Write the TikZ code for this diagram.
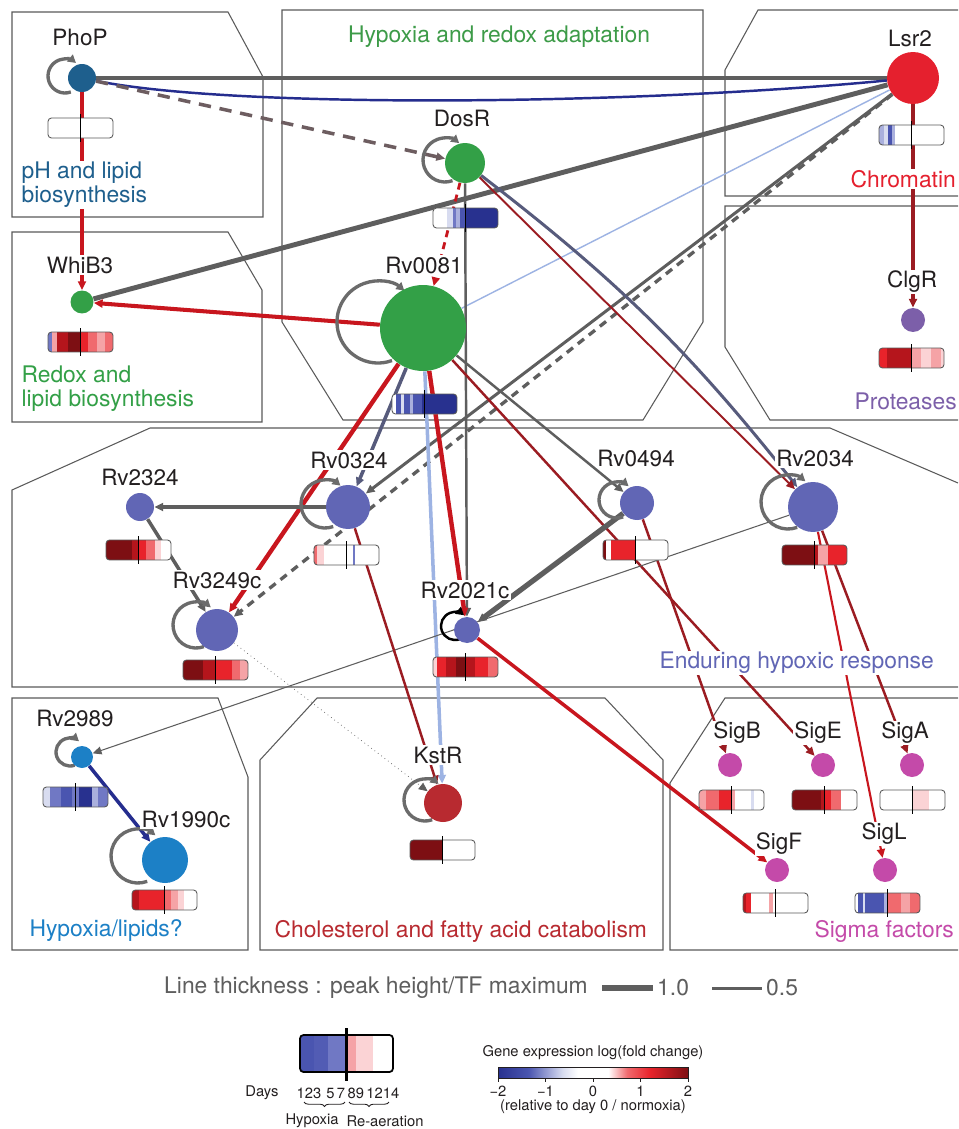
\documentclass[tikz,border=0pt]{standalone}
\usepackage{fontspec}
\setmainfont{TeX Gyre Heros}
\usetikzlibrary{arrows.meta,calc,backgrounds,decorations.pathreplacing}

% node and text colours
\definecolor{ink}{HTML}{231F20}
\definecolor{framegray}{HTML}{5A5A5A}
\definecolor{loopgray}{HTML}{6B6B6B}
\definecolor{edgegray}{HTML}{5E5E5E}
\definecolor{edgered}{HTML}{C8161E}
\definecolor{edgedark}{HTML}{9B1C22}
\definecolor{edgenavy}{HTML}{252D8E}
\definecolor{edgeslate}{HTML}{575B7C}
\definecolor{edgelight}{HTML}{9DB3E3}
\definecolor{edgebrown}{HTML}{6D5D60}
\definecolor{phcol}{HTML}{1E5F8D}
\definecolor{greencol}{HTML}{33A047}
\definecolor{hypcol}{HTML}{3D9B48}
\definecolor{chromcol}{HTML}{E5202E}
\definecolor{protcol}{HTML}{7C5FA9}
\definecolor{endcol}{HTML}{6166B5}
\definecolor{lipcol}{HTML}{1C80C6}
\definecolor{cholcol}{HTML}{B82A30}
\definecolor{sigcol}{HTML}{C44AA9}
% heat map colours
\definecolor{bA}{HTML}{D8DCF0}
\definecolor{bB}{HTML}{AAB0DD}
\definecolor{bC}{HTML}{7078C4}
\definecolor{bD}{HTML}{4A55B0}
\definecolor{bE}{HTML}{28318F}
\definecolor{rA}{HTML}{FBD3D5}
\definecolor{rB}{HTML}{F5A3A6}
\definecolor{rC}{HTML}{F06A6E}
\definecolor{rD}{HTML}{E8232B}
\definecolor{rE}{HTML}{B5151C}
\definecolor{rF}{HTML}{7D0F13}

\pgfdeclarehorizontalshading{foldbar}{100bp}{color(0bp)=(bE); color(25bp)=(bE);
  color(33bp)=(bD); color(42bp)=(bA); color(46bp)=(white); color(54bp)=(white);
  color(59bp)=(rC); color(65bp)=(rD); color(75bp)=(rF); color(100bp)=(rF)}

\tikzset{
  tf/.style={circle, inner sep=0pt, minimum size=#1*0.04cm},
  gene/.style={fill=white, inner sep=0.7pt, text=ink, font=\fontsize{12.8}{14}\selectfont},
  module/.style={anchor=west, align=left, fill=white, inner sep=0.7pt, font=\fontsize{13}{13.6}\selectfont},
  frame/.style={draw=framegray, line width=0.6pt},
  reg/.style={-{Triangle[length=5pt,width=4.5pt]}},
  selfreg/.style={draw=loopgray, line width=1.9pt, -{Triangle[length=4.5pt,width=5pt]}},
  barframe/.style={draw=framegray, line width=0.5pt},
  daymark/.style={draw=black, line width=0.6pt},
  keytxt/.style={anchor=west, inner sep=0.5pt, text=edgegray, font=\fontsize{13}{14}\selectfont},
  legtxt/.style={inner sep=0.5pt, text=ink, font=\fontsize{8.4}{9.5}\selectfont},
}

% expression bar: left x, top y, segments start/end/colour
\newcommand{\heatbar}[3]{%
  \fill[white, rounded corners=2pt] (#1,#2) rectangle ++(65,20);
  \begin{scope}
    \clip[rounded corners=2pt] (#1,#2) rectangle ++(65,20);
    \foreach \s/\e/\c in {#3} \fill[\c] (#1+\s*65,#2) rectangle (#1+\e*65,#2+20);
  \end{scope}
  \draw[barframe, rounded corners=2pt] (#1,#2) rectangle ++(65,20);
  \draw[daymark] (#1+32.5,#2-4) -- (#1+32.5,#2+24);
}

\begin{document}
\begin{tikzpicture}[x=0.02cm, y=-0.02cm]
    \useasboundingbox (0,0) rectangle (958,1129);
    \clip (0,0) rectangle (958,1129);

    % regulators and targets
    \node[tf=14, fill=phcol] (PhoP) at (82,78) {};
    \node[tf=11.5, fill=greencol] (WhiB3) at (82,302) {};
    \node[tf=20, fill=greencol] (DosR) at (465,163) {};
    \node[tf=43, fill=greencol] (Rv0081) at (423,328) {};
    \node[tf=26, fill=chromcol] (Lsr2) at (913,78) {};
    \node[tf=12, fill=protcol] (ClgR) at (913,320) {};
    \node[tf=14, fill=endcol] (Rv2324) at (140,507) {};
    \node[tf=22, fill=endcol] (Rv0324) at (348,507) {};
    \node[tf=21, fill=endcol] (Rv3249c) at (217,630) {};
    \node[tf=13, fill=endcol] (Rv2021c) at (467,630) {};
    \node[tf=17, fill=endcol] (Rv0494) at (637,503) {};
    \node[tf=25, fill=endcol] (Rv2034) at (813,507) {};
    \node[tf=11, fill=lipcol] (Rv2989) at (82,757) {};
    \node[tf=23, fill=lipcol] (Rv1990c) at (165,860) {};
    \node[tf=19, fill=cholcol] (KstR) at (443,803) {};
    \node[tf=12, fill=sigcol] (SigB) at (730,765) {};
    \node[tf=12, fill=sigcol] (SigE) at (823,765) {};
    \node[tf=12, fill=sigcol] (SigA) at (912,765) {};
    \node[tf=12, fill=sigcol] (SigF) at (777,870) {};
    \node[tf=12, fill=sigcol] (SigL) at (885,870) {};

    \begin{pgfonlayer}{background}
    \fill[white] (0,0) rectangle (958,1129);
    % module frames
    \draw[frame] (12,12) -- (228,12) -- (263,77) -- (263,217) -- (12,217) -- cycle;
    \draw[frame] (12,232) -- (228,232) -- (262,290) -- (262,422) -- (12,422) -- cycle;
    \draw[frame] (282,10) -- (703,10) -- (703,322) -- (643,420) -- (343,420) -- (282,322) -- cycle;
    \draw[frame] (958,10) -- (758,10) -- (725,70) -- (725,196) -- (958,196);
    \draw[frame] (958,206) -- (725,206) -- (725,347) -- (770,420) -- (958,420);
    \draw[frame] (958,687) -- (12,687) -- (12,490) -- (150,428) -- (830,428) -- (958,483);
    \draw[frame] (12,698) -- (218,698) -- (248,777) -- (248,950) -- (12,950) -- cycle;
    \draw[frame] (317,698) -- (605,698) -- (663,760) -- (663,950) -- (260,950) -- (260,760) -- cycle;
    \draw[frame] (958,698) -- (725,698) -- (670,783) -- (670,950) -- (958,950);

    % interactions
    \draw[edgegray, line width=2.3pt] (PhoP) -- (Lsr2);
    \draw[edgenavy, line width=1.4pt] (Lsr2) .. controls (620,106) and (230,108) .. (PhoP);
    \draw[edgebrown, line width=2pt, dash pattern=on 7pt off 5pt, reg] (PhoP) -- (DosR);
    \draw[edgered, line width=2.8pt, reg] (PhoP) -- (WhiB3);
    \draw[edgegray, line width=2.8pt] (Lsr2) -- (WhiB3);
    \draw[edgelight, line width=0.8pt] (Lsr2) -- (Rv0081);
    \draw[edgegray, line width=1.7pt, reg] (Lsr2) -- (Rv0324);
    \draw[edgegray, line width=1.9pt, dash pattern=on 4.5pt off 3.5pt, reg] (Lsr2) -- (Rv3249c);
    \draw[edgedark, line width=2.3pt, reg] (Lsr2) -- (ClgR);
    \draw[edgered, line width=2.3pt, reg] (Rv0081) -- (WhiB3);
    \draw[edgered, line width=1.6pt, dash pattern=on 4pt off 3pt, reg] (DosR) -- (Rv0081);
    \draw[edgegray, line width=1.4pt, reg] (DosR) -- (Rv2021c);
    \draw[edgeslate, line width=1.7pt, reg] (DosR) to[bend left=7] (Rv2034);
    \draw[edgedark, line width=1.1pt, reg] (DosR) -- (Rv2034);
    \draw[edgered, line width=2.5pt, reg] (Rv0081) -- (Rv3249c);
    \draw[edgeslate, line width=2pt, reg] (Rv0081) -- (Rv0324);
    \draw[edgelight, line width=2pt, reg] (Rv0081) -- (KstR);
    \draw[edgered, line width=2.5pt, reg] (Rv0081) -- (Rv2021c);
    \draw[edgegray, line width=1.4pt, reg] (Rv0081) -- (Rv0494);
    \draw[edgedark, line width=1.4pt, reg] (Rv0081) -- (SigE);
    \draw[edgedark, line width=1.4pt, reg] (Rv0494) -- (SigB);
    \draw[edgegray, line width=3pt, reg] (Rv0494) -- (Rv2021c);
    \draw[edgegray, line width=0.6pt, reg] (Rv2034) -- (Rv2989);
    \draw[edgegray, line width=0.4pt, dotted, reg] (Rv3249c) -- (KstR);
    \draw[edgedark, line width=1.4pt, reg] (Rv0324) -- (KstR);
    \draw[edgegray, line width=2.8pt, reg] (Rv0324) -- (Rv2324);
    \draw[edgegray, line width=2pt, reg] (Rv2324) -- (Rv3249c);
    \draw[edgered, line width=2pt, reg] (Rv2021c) -- (SigF);
    \draw[edgered, line width=1.2pt, reg] (Rv2034) -- (SigL);
    \draw[edgedark, line width=1.4pt, reg] (Rv2034) -- (SigA);
    \draw[edgenavy, line width=2pt, reg] (Rv2989) -- (Rv1990c);

    % self-regulation
    \foreach \n/\dx/\dy/\R in {PhoP/-17/-2/17, DosR/-20/-3/22, Rv0081/-45/-6/41,
        Rv0324/-23/-3/24, Rv3249c/-21/-5/23, Rv0494/-20/-3/18, Rv2034/-25/-5/27,
        Rv2989/-12/-5/14, Rv1990c/-27/-4/27, KstR/-18/-3/21}
      \draw[selfreg] (\n) ++(\dx,\dy) ++(70:\R) arc[start angle=70, end angle=310, radius=\R];
    \draw[selfreg, draw=black, line width=1.4pt] (Rv2021c) ++(-12,-4) ++(70:14) arc[start angle=70, end angle=310, radius=14];
    \end{pgfonlayer}

    % expression profiles
    \heatbar{48}{118}{0/1/white}
    \heatbar{48}{332}{0/0.06/bC, 0.06/0.14/rB, 0.14/0.3/rE, 0.3/0.5/rF, 0.5/0.62/rD, 0.62/0.75/rC, 0.75/0.88/rB, 0.88/1/rC}
    \heatbar{433}{208}{0/0.22/white, 0.22/0.3/bA, 0.3/0.36/bC, 0.36/0.42/bB, 0.42/0.5/bD, 0.5/1/bE}
    \heatbar{392}{394}{0/0.06/white, 0.06/0.14/bD, 0.14/0.18/bA, 0.18/0.27/bD, 0.27/0.33/bB, 0.33/0.46/bD, 0.46/1/bE}
    \heatbar{879}{125}{0/0.08/bB, 0.08/0.14/bA, 0.14/0.2/bD, 0.2/0.25/bB, 0.25/1/white}
    \heatbar{879}{348}{0/0.12/rD, 0.12/0.3/rE, 0.3/0.5/rE, 0.5/0.65/rB, 0.65/0.8/rA, 0.8/0.95/rB, 0.95/1/rA}
    \heatbar{106}{540}{0/0.4/rF, 0.4/0.5/rE, 0.5/0.62/rD, 0.62/0.75/rC, 0.75/0.85/rA, 0.85/1/white}
    \heatbar{314}{545}{0/0.05/rC, 0.05/0.15/rA, 0.15/0.6/white, 0.6/0.63/bC, 0.63/1/white}
    \heatbar{183}{660}{0/0.3/rF, 0.3/0.5/rE, 0.5/0.75/rD, 0.75/0.88/rC, 0.88/1/rB}
    \heatbar{433}{657}{0/0.06/rA, 0.06/0.2/rD, 0.2/0.35/rE, 0.35/0.5/rF, 0.5/0.65/rE, 0.65/0.85/rD, 0.85/1/rC}
    \heatbar{603}{540}{0/0.05/rF, 0.05/0.12/white, 0.12/0.5/rD, 0.5/1/white}
    \heatbar{782}{545}{0/0.5/rF, 0.5/0.56/rE, 0.56/0.7/rB, 0.7/1/rD}
    \heatbar{43}{787}{0/0.1/bA, 0.1/0.28/bC, 0.28/0.45/bD, 0.45/0.55/bC, 0.55/0.75/bE, 0.75/0.85/bB, 0.85/1/bC}
    \heatbar{132}{890}{0/0.1/rE, 0.1/0.5/rD, 0.5/0.6/rC, 0.6/0.7/rB, 0.7/0.8/rA, 0.8/1/white}
    \heatbar{410}{840}{0/0.5/rF, 0.5/1/white}
    \heatbar{699}{790}{0/0.1/rB, 0.1/0.3/rC, 0.3/0.5/rD, 0.5/0.55/rB, 0.55/0.8/white, 0.8/0.85/bA, 0.85/1/white}
    \heatbar{792}{790}{0/0.45/rF, 0.45/0.5/rE, 0.5/0.6/rD, 0.6/0.75/rC, 0.75/1/white}
    \heatbar{880}{790}{0/0.5/white, 0.5/0.75/rA, 0.75/1/white}
    \heatbar{743}{893}{0/0.05/rE, 0.05/0.12/rD, 0.12/0.4/white, 0.4/0.46/rB, 0.46/1/white}
    \heatbar{855}{893}{0/0.05/white, 0.05/0.12/bD, 0.12/0.16/bA, 0.16/0.44/bD, 0.44/0.5/bB, 0.5/0.7/rC, 0.7/0.85/rB, 0.85/1/rC}

    % gene names
    \node[gene] (PhoP-l) at (80,37) {PhoP};
    \node[gene] (WhiB3-l) at (80,265) {WhiB3};
    \node[gene] (DosR-l) at (462,118) {DosR};
    \node[gene] (Rv0081-l) at (424,265) {Rv0081};
    \node[gene] (Lsr2-l) at (910,38) {Lsr2};
    \node[gene] (ClgR-l) at (912,282) {ClgR};
    \node[gene] (Rv2324-l) at (140,477) {Rv2324};
    \node[gene] (Rv0324-l) at (349,460) {Rv0324};
    \node[gene] (Rv3249c-l) at (217,580) {Rv3249c};
    \node[gene] (Rv2021c-l) at (465,590) {Rv2021c};
    \node[gene] (Rv0494-l) at (636,458) {Rv0494};
    \node[gene] (Rv2034-l) at (815,458) {Rv2034};
    \node[gene] (Rv2989-l) at (75,718) {Rv2989};
    \node[gene] (Rv1990c-l) at (186,819) {Rv1990c};
    \node[gene] (KstR-l) at (438,755) {KstR};
    \node[gene] (SigB-l) at (737,733) {SigB};
    \node[gene] (SigE-l) at (818,733) {SigE};
    \node[gene] (SigA-l) at (905,733) {SigA};
    \node[gene] (SigF-l) at (779,844) {SigF};
    \node[gene] (SigL-l) at (884,834) {SigL};

    % module names
    \node[module, text=phcol] (ph-mod) at (20,185) {pH and lipid\\biosynthesis};
    \node[module, text=greencol] (redox-mod) at (20,389) {Redox and\\lipid biosynthesis};
    \node[module, anchor=center, text=hypcol] (hyp-mod) at (499,37) {Hypoxia and redox adaptation};
    \node[module, text=chromcol] (chrom-mod) at (849,179) {Chromatin};
    \node[module, text=protcol] (prot-mod) at (853,401) {Proteases};
    \node[module, text=endcol] (end-mod) at (658,663) {Enduring hypoxic response};
    \node[module, text=lipcol] (lip-mod) at (28,931) {Hypoxia/lipids?};
    \node[module, text=cholcol] (chol-mod) at (273,931) {Cholesterol and fatty acid catabolism};
    \node[module, text=sigcol] (sig-mod) at (813,931) {Sigma factors};

    % line thickness key
    \node[keytxt] (thick-key) at (163,988) {Line thickness : peak height/TF maximum};
    \coordinate (full-a) at (602,988);
    \coordinate (full-b) at (653,988);
    \coordinate (half-a) at (712,988);
    \coordinate (half-b) at (762,988);
    \draw[edgegray, line width=3pt] (full-a) -- (full-b);
    \draw[edgegray, line width=1.7pt] (half-a) -- (half-b);
    \node[keytxt] (full-l) at (656,988) {1.0};
    \node[keytxt] (half-l) at (765,988) {0.5};

    % time course key
    \begin{scope}
      \clip[rounded corners=2pt] (300,1035) rectangle (393,1072);
      \foreach \s/\e/\c in {0/0.15/bD, 0.15/0.3/bD!80!bC, 0.3/0.5/bC, 0.5/0.6/rB, 0.6/0.78/rA, 0.78/1/white}
        \fill[\c] (300+\s*93,1035) rectangle (300+\e*93,1072);
    \end{scope}
    \draw[black, line width=1pt, rounded corners=2pt] (300,1035) rectangle (393,1072);
    \draw[black, line width=1.2pt] (346.5,1028) -- (346.5,1081);
    \node[legtxt] (days-l) at (262,1093) {Days};
    \node[legtxt] (days-n) at (348,1093) {123\,\,5\,7\,89\,1214};
    \draw[ink, line width=0.5pt, decorate, decoration={brace, mirror, amplitude=2.5pt}] (304,1102) -- (345,1102);
    \draw[ink, line width=0.5pt, decorate, decoration={brace, mirror, amplitude=2.5pt}] (349,1102) -- (389,1102);
    \node[legtxt] (hyp-l) at (312,1121) {Hypoxia};
    \node[legtxt] (reaer-l) at (385,1121) {Re-aeration};

    % fold change key
    \node[legtxt] (fold-t) at (593,1053) {Gene expression log(fold change)};
    \shade[shading=foldbar] (498,1067) rectangle (688,1078);
    \draw[ink, line width=0.5pt] (498,1067) rectangle (688,1078);
    \foreach \v/\t in {-2/−2, -1/−1, 0/0, 1/1, 2/2} {
      \draw[ink, line width=0.5pt] (593+\v*47.5,1078) -- (593+\v*47.5,1082);
      \node[legtxt] at (593+\v*47.5,1091) {\t};
    }
    \node[legtxt] (fold-r) at (593,1107) {(relative to day 0 / normoxia)};
\end{tikzpicture}
\end{document}
